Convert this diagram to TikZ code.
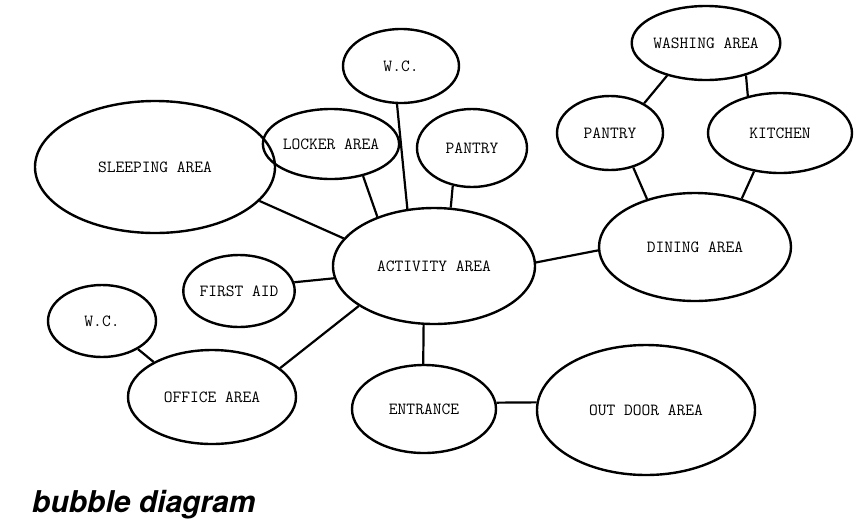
\documentclass[tikz,border=0pt]{standalone}
\usepackage{fontspec}
\setsansfont{TeX Gyre Heros}
\usetikzlibrary{shapes.geometric}
\tikzset{
  bub/.style={ellipse, draw, line width=2.4pt, inner sep=0pt,
    font=\ttfamily\fontsize{17}{19}\selectfont},
  link/.style={line width=2.2pt}
}
\newcommand{\bubble}[5]{\node[bub, minimum width=#3pt, minimum height=#4pt] (#1) at (#2) {#5};}
\begin{document}
\begin{tikzpicture}[x=1pt,y=-1pt]
\useasboundingbox (0,0) rectangle (859,531);
\bubble{sleep}{155,167}{240}{132}{SLEEPING AREA}
\bubble{locker}{331,144}{98}{70}{LOCKER AREA}
\bubble{wctop}{401,66}{116}{74}{W.C.}
\bubble{pantrym}{472,148}{110}{78}{PANTRY}
\bubble{act}{434,266}{202}{116}{ACTIVITY AREA}
\bubble{aid}{239,291}{102}{72}{FIRST AID}
\bubble{wcleft}{102,321}{108}{72}{W.C.}
\bubble{office}{212,397}{168}{94}{OFFICE AREA}
\bubble{entr}{424,409}{144}{88}{ENTRANCE}
\bubble{outdoor}{646,410}{218}{130}{OUT DOOR AREA}
\bubble{dining}{695,247}{192}{108}{DINING AREA}
\bubble{pantryr}{610,133}{106}{74}{PANTRY}
\bubble{kitchen}{780,133}{144}{80}{KITCHEN}
\bubble{washing}{706,43}{108}{74}{WASHING AREA}

\draw[link] (sleep.-18) -- (act.163);
\draw[link] (locker.-45) -- (act.139);
\draw[link] (wctop.264) -- (act.115);
\draw[link] (pantrym.243) -- (act.74);
\draw[link] (aid.9) -- (act.187);
\draw[link] (office.23) -- (act.208);
\draw[link] (act.260) -- (entr.91);
\draw[link] (act.2) -- (dining.182);
\draw[link] (wcleft.-38) -- (office.149);
\draw[link] (entr.5) -- (outdoor.176);
\draw[link] (pantryr.-56) -- (dining.135);
\draw[link] (kitchen.236) -- (dining.46);
\draw[link] (washing.220) -- (pantryr.41);
\draw[link] (washing.-39) -- (kitchen.131);

\node[anchor=base west, font=\sffamily\bfseries\itshape\fontsize{30}{32}\selectfont, inner sep=0pt] (title) at (32,512) {bubble diagram};
\end{tikzpicture}
\end{document}
